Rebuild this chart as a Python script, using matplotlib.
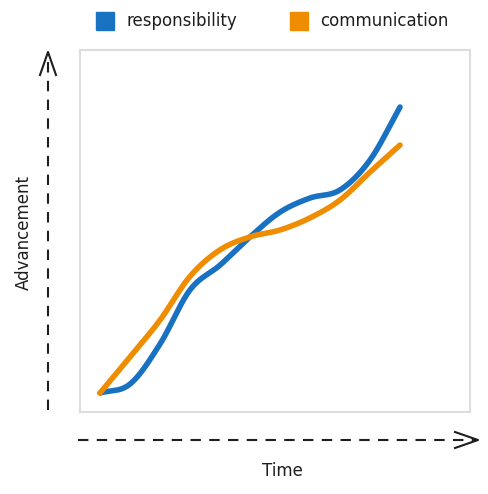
import numpy as np
import matplotlib
matplotlib.use("Agg")
import matplotlib.pyplot as plt

time = list(range(11))
responsibility = [0, 3.1, 17.0, 35.8, 44.4, 54.2, 62.8, 67.7, 70.5, 80.9, 99.3]
communication = [0, 12.5, 25.3, 40.5, 49.7, 54.2, 56.6, 60.8, 67.0, 76.7, 86.1]
series = [("responsibility", responsibility, "#1971c2"), ("communication", communication, "#f08c00")]

def smooth(x, y, n=20):
    x = np.asarray(x, float); y = np.asarray(y, float)
    P = np.column_stack([x, y])
    P = np.vstack([P[0] - (P[1] - P[0]), P, P[-1] + (P[-1] - P[-2])])
    out = []
    for i in range(1, len(P) - 2):
        p0, p1, p2, p3 = P[i-1], P[i], P[i+1], P[i+2]
        for t in np.linspace(0, 1, n, endpoint=False):
            out.append(0.5*((2*p1) + (-p0+p2)*t + (2*p0-5*p1+4*p2-p3)*t**2 + (-p0+3*p1-3*p2+p3)*t**3))
    out.append(P[-2])
    out = np.array(out)
    return out[:, 0], out[:, 1]

fig = plt.figure(figsize=(4.88, 4.94), dpi=100)
W, H = 488, 494
ax = fig.add_axes([80/W, 1-412/H, 390/W, 362/H])
ax.set_xlim(-0.667, 12.333)
ax.set_ylim(-6.6, 119.1)
for name, vals, c in series:
    sx, sy = smooth(time, vals)
    ax.plot(sx, sy, color=c, lw=4, solid_capstyle="round")
ax.set_xticks([]); ax.set_yticks([])
for s in ax.spines.values():
    s.set_color("#dddddd"); s.set_linewidth(1.5)

ov = fig.add_axes([0, 0, 1, 1], facecolor="none")
ov.set_xlim(0, W); ov.set_ylim(H, 0); ov.axis("off")
ov.plot([48, 48], [410, 55], color="#1e1e1e", lw=1.5, ls=(0, (5, 4)))
ov.plot([40, 48, 56], [75, 52, 75], color="#1e1e1e", lw=1.5)
ov.plot([78, 475], [440, 440], color="#1e1e1e", lw=1.5, ls=(0, (5, 4)))
ov.plot([455, 478, 455], [432, 440, 448], color="#1e1e1e", lw=1.5)
ov.text(24, 232, "Advancement", rotation=90, ha="center", va="center", fontsize=12, color="#1e1e1e")
ov.text(282, 471, "Time", ha="center", va="center", fontsize=12, color="#1e1e1e")
for (name, vals, c), x0 in zip(series, [96, 290]):
    ov.add_patch(plt.Rectangle((x0, 12), 18, 18, color=c))
    ov.text(x0 + 30, 21, name, ha="left", va="center", fontsize=12, color="#1e1e1e")

fig.savefig("out.png", dpi=100)
